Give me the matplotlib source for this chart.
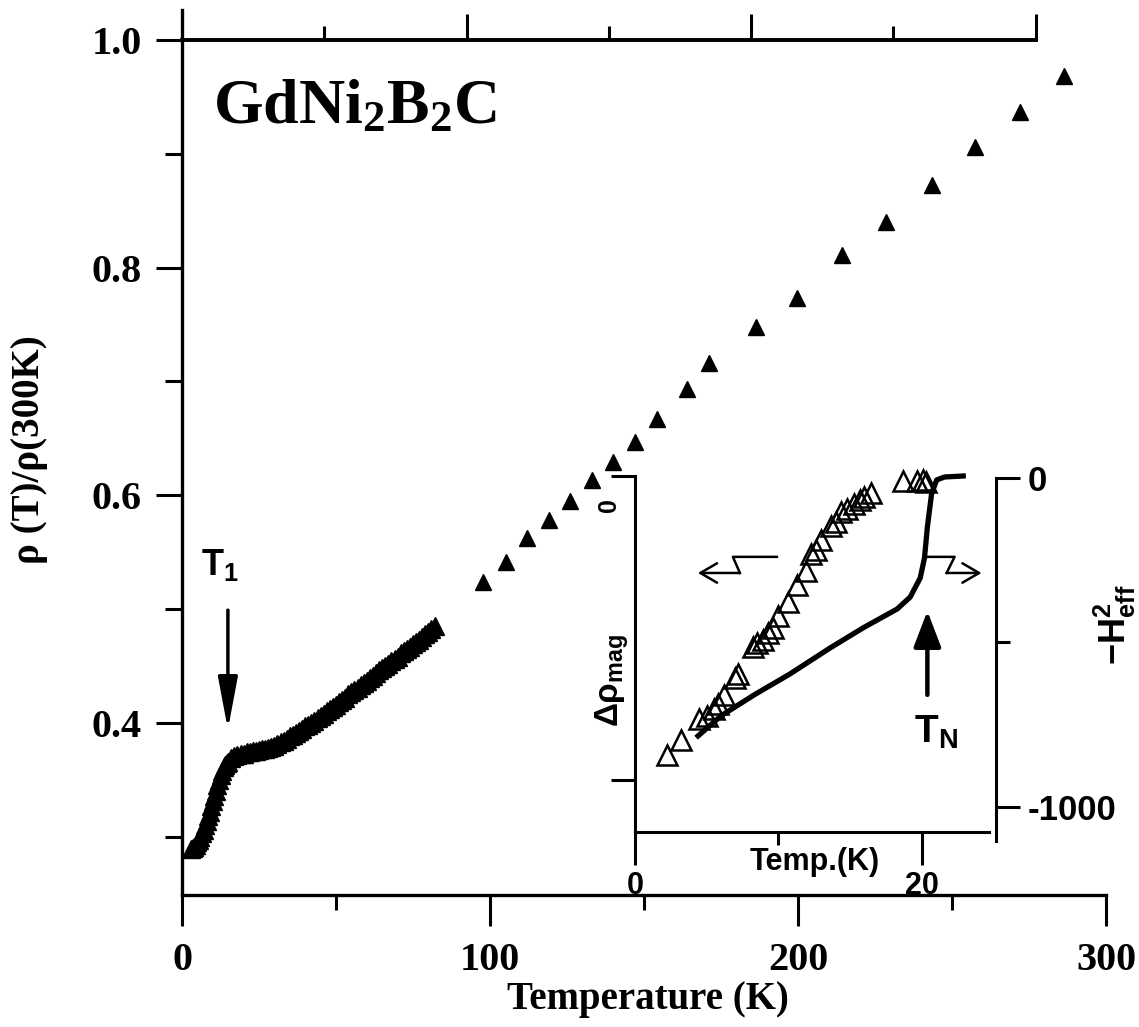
import numpy as np
import matplotlib.pyplot as plt
from matplotlib.ticker import NullFormatter

# main panel: rho(T)/rho(300K), dense low-T run
t_dense = [3, 3.5, 4, 4.5, 5, 5.5, 6, 6.5, 7, 7.5, 8, 8.5, 9, 9.5, 10, 10.5,
           11, 11.5, 12, 12.5, 13, 13.5, 14, 14.5, 15, 16, 17, 18, 19, 20,
           21, 22, 23, 24, 25, 26, 27, 28, 29, 30, 31, 32, 33, 34, 35, 36, 37,
           38, 39, 40, 41, 42, 43, 44, 45, 46, 47, 48, 49, 50, 51, 52, 53, 54,
           55, 56, 57, 58, 59, 60, 61, 62, 63, 64, 65, 66, 67, 68, 69, 70, 71,
           72, 73, 74, 75, 76, 77, 78, 79, 80, 81, 82]
r_dense = [0.289, 0.290, 0.291, 0.293, 0.295, 0.297, 0.300, 0.303, 0.306,
           0.310, 0.314, 0.318, 0.322, 0.327, 0.331, 0.336, 0.340, 0.345,
           0.350, 0.354, 0.358, 0.361, 0.363, 0.365, 0.366, 0.369, 0.371,
           0.372, 0.373, 0.373,
           0.374, 0.374, 0.375, 0.375, 0.376, 0.377, 0.377, 0.378, 0.379,
           0.380, 0.381, 0.383, 0.384, 0.386, 0.388, 0.389, 0.391, 0.393,
           0.395, 0.397, 0.398, 0.400, 0.402, 0.404, 0.406, 0.408, 0.410,
           0.412, 0.414, 0.416, 0.418, 0.420, 0.422, 0.425, 0.427, 0.429,
           0.431, 0.433, 0.435, 0.437, 0.439, 0.441, 0.444, 0.446, 0.448,
           0.450, 0.452, 0.454, 0.456, 0.458, 0.461, 0.463, 0.465, 0.467,
           0.469, 0.471, 0.473, 0.475, 0.478, 0.480, 0.482, 0.485]

# main panel, sparse high-T points
t_sparse = [97.7, 105.2, 112.0, 119.2, 126.0, 133.1, 139.9, 147.1, 154.2,
            164.0, 171.1, 186.4, 199.7, 214.3, 228.6, 243.5, 257.5, 272.1, 286.4]
r_sparse = [0.524, 0.541, 0.562, 0.578, 0.595, 0.613, 0.629, 0.647, 0.667,
            0.693, 0.716, 0.748, 0.773, 0.811, 0.840, 0.873, 0.906, 0.937, 0.968]

# inset: delta rho_mag (arb. units, left axis)
t_in = [2.2, 3.2, 4.5, 5.0, 5.5, 5.8, 6.2, 7.0, 7.2, 8.2, 8.5, 8.9, 9.3, 9.6,
        10.0, 10.7, 11.3, 11.9, 12.3, 12.6, 13.0, 13.7, 14.0, 14.4, 14.8,
        15.3, 15.7, 16.0, 16.5, 18.7, 19.7, 20.1, 20.3]
drho_in = [-0.918, -0.868, -0.800, -0.790, -0.766, -0.750, -0.720, -0.664,
           -0.651, -0.563, -0.550, -0.539, -0.516, -0.500, -0.461, -0.414,
           -0.359, -0.313, -0.257, -0.245, -0.211, -0.164, -0.150, -0.118,
           -0.109, -0.092, -0.080, -0.069, -0.056, -0.016, -0.016, -0.013, -0.020]

# inset: -H^2_eff (right axis)
t_h = [4.4, 6.0, 8.4, 10.8, 13.6, 15.9, 18.3, 19.2, 19.9, 20.2, 20.4, 20.7,
       21.05, 21.6, 22.9]
h_eff = [-784, -723, -657, -596, -517, -456, -398, -362, -304, -243, -149,
         -46, -6, 3, 6]

plt.rcParams['font.family'] = ['Liberation Serif', 'DejaVu Serif']
plt.rcParams['font.weight'] = 'bold'
plt.rcParams['mathtext.fontset'] = 'custom'
plt.rcParams['mathtext.rm'] = 'Liberation Serif:bold'
plt.rcParams['mathtext.it'] = 'Liberation Serif:bold'
plt.rcParams['mathtext.bf'] = 'Liberation Serif:bold'
plt.rcParams['mathtext.sf'] = 'Liberation Sans:bold'

W, H = 1139, 1027
fig = plt.figure(figsize=(W / 100, H / 100), dpi=100)

# ---- main axes
ax = fig.add_axes([182 / W, 1 - 895 / H, 924 / W, 855 / H])
ax.plot(t_dense, r_dense, '^', color='k', ms=13, clip_on=False)
ax.plot(t_sparse, r_sparse, '^', color='k', ms=12, clip_on=False)
ax.set_xlim(0, 300)
ax.set_ylim(0.2487, 1.0)

for s in ['top', 'right']:
    ax.spines[s].set_visible(False)
for s in ['left', 'bottom']:
    ax.spines[s].set_linewidth(2.4)
ax.spines['left'].set_bounds(0.2487, 1.026)

ax.set_xticks([0, 100, 200, 300])
ax.set_xticks([50, 150, 250], minor=True)
ax.set_yticks([0.4, 0.6, 0.8, 1.0])
ax.set_yticks([0.3, 0.5, 0.7, 0.9], minor=True)
ax.set_yticklabels(['0.4', '0.6', '0.8', '1.0'])
ax.tick_params(axis='x', which='major', direction='out', length=22, width=2.2,
               pad=12, labelsize=29)
ax.tick_params(axis='x', which='minor', direction='out', length=11, width=2.2)
ax.tick_params(axis='y', which='major', direction='out', length=19, width=2.2,
               pad=10, labelsize=29)
ax.tick_params(axis='y', which='minor', direction='out', length=12, width=2.2)

# top axis line with its own ticks
secax = ax.secondary_xaxis('top')
secax.set_xticks(np.arange(2, 7, 2) * 46.2)
secax.set_xticks(np.arange(1, 6, 2) * 46.2, minor=True)
secax.xaxis.set_major_formatter(NullFormatter())
secax.tick_params(which='major', direction='out', length=19, width=2.2)
secax.tick_params(which='minor', direction='out', length=10, width=2.2)
secax.spines['top'].set_linewidth(2.8)
secax.spines['top'].set_bounds(0, 277.2)

fig.text(30 / W, 1 - 450 / H, 'ρ (T)/ρ(300K)', rotation=90, fontsize=28,
         ha='center', va='center')
fig.text(648 / W, 1 - 1000 / H, 'Temperature (K)', fontsize=28,
         ha='center', va='center')
ax.text(0.0335, 0.903, r'$\mathrm{GdNi_2B_2C}$', transform=ax.transAxes,
        fontsize=46, ha='left', va='baseline')

ax.annotate('', xy=(14.9, 0.394), xytext=(14.9, 0.499),
            arrowprops=dict(arrowstyle='-|>,head_length=1.6,head_width=0.3',
                            lw=2.5, color='k', shrinkA=0, shrinkB=0,
                            mutation_scale=20))
ax.text(12.3, 0.539, r'$\mathsf{T_1}$', fontsize=26, ha='center', va='center')

# ---- inset
axi = fig.add_axes([635 / W, 1 - 832 / H, 354 / W, 356 / H], facecolor='none')
axi.plot(t_in, drho_in, '^', mfc='none', mec='k', ms=14, mew=1.8, clip_on=False)
axi.set_xlim(0, 24.7)
axi.set_ylim(-1.171, 0)
for s in ['top', 'right']:
    axi.spines[s].set_visible(False)
for s in ['left', 'bottom']:
    axi.spines[s].set_linewidth(2.2)
axi.set_yticks([0, -1])
axi.set_yticklabels([])
axi.tick_params(axis='y', direction='out', length=17, width=2.2)
axi.set_xticks([0, 20])
axi.set_xticks([10], minor=True)
axi.set_xticklabels(['0', '20'], family='Liberation Sans', fontsize=22)
axi.tick_params(axis='x', which='major', direction='out', length=24, width=2.2, pad=4)
axi.tick_params(axis='x', which='minor', direction='out', length=9, width=2.2)

axr = axi.twinx()
axr.plot(t_h, h_eff, 'k-', lw=3.8, clip_on=False)
axr.set_ylim(-1076, 6)
for s in ['top', 'left', 'bottom']:
    axr.spines[s].set_visible(False)
axr.spines['right'].set_position(('axes', 1.02))
axr.spines['right'].set_bounds(-1103, 0)
axr.spines['right'].set_linewidth(2.2)
axr.set_yticks([0, -1000])
axr.set_yticks([-500], minor=True)
axr.set_yticklabels(['0', '-1000'], family='Liberation Sans', fontsize=25)
axr.tick_params(axis='y', which='major', direction='out', length=17, width=2.2, pad=6)
axr.tick_params(axis='y', which='minor', direction='out', length=10, width=2.2)

fig.text(612 / W, 1 - 680 / H, r'$\mathsf{\Delta\rho_{mag}}$', rotation=90,
         fontsize=24, ha='center', va='center')
fig.text(1115 / W, 1 - 625 / H, r'$\mathsf{-H^2_{eff}}$', rotation=90,
         fontsize=26, ha='center', va='center')
fig.text(609 / W, 1 - 505 / H, '0', rotation=90, family='Liberation Sans',
         fontsize=18, ha='center', va='center')
fig.text(815 / W, 1 - 862 / H, 'Temp.(K)', family='Liberation Sans',
         fontsize=22, ha='center', va='center')

# T_N arrow and the two pointer arrows
axi.annotate('', xy=(20.4, -0.444), xytext=(20.4, -0.72),
             arrowprops=dict(arrowstyle='-|>,head_length=1.1,head_width=0.42',
                             lw=3.2, color='k', shrinkA=0, shrinkB=0,
                             mutation_scale=20))
axi.text(21.0, -0.845, r'$\mathsf{T_N}$', fontsize=28, ha='center', va='center')

axi.plot([9.9, 6.83, 7.32], [-0.266, -0.266, -0.319], 'k-', lw=1.8)
axi.annotate('', xy=(4.39, -0.319), xytext=(7.32, -0.319),
             arrowprops=dict(arrowstyle='->,head_length=0.6,head_width=0.35',
                             lw=1.8, color='k', shrinkA=0, shrinkB=0,
                             mutation_scale=20))
axi.plot([20.2, 22.3, 21.74], [-0.266, -0.266, -0.319], 'k-', lw=1.8)
axi.annotate('', xy=(24.18, -0.319), xytext=(21.74, -0.319),
             arrowprops=dict(arrowstyle='->,head_length=0.6,head_width=0.35',
                             lw=1.8, color='k', shrinkA=0, shrinkB=0,
                             mutation_scale=20))

fig.savefig('out.png', dpi=100)
